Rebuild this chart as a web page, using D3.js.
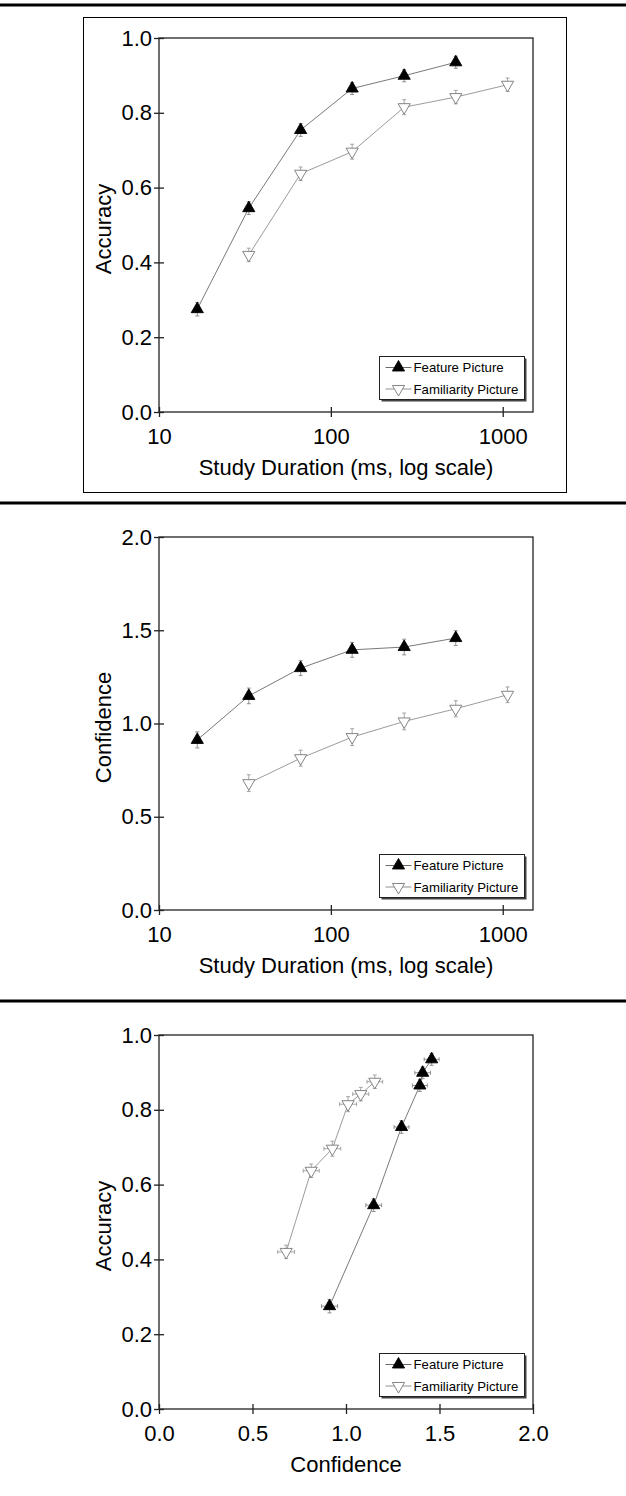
<!DOCTYPE html>
<html>
<head>
<meta charset="utf-8">
<script src="https://cdn.jsdelivr.net/npm/d3@7"></script>
<style>
  body { margin: 0; background: #fff; }
  svg { display: block; font-family: "Liberation Sans", Arial, Helvetica, sans-serif; }
</style>
</head>
<body>
<svg id="chart" width="626" height="1496"></svg>
<script>
// study durations (ms)
var durFeature = [16.7, 33.3, 66.7, 133, 267, 533];
var durFamiliar = [33.3, 66.7, 133, 267, 533, 1067];

var accFeature = [0.275, 0.545, 0.754, 0.865, 0.899, 0.935];
var accFeatureErr = [0.018, 0.017, 0.017, 0.016, 0.016, 0.016];
var accFamiliar = [0.42, 0.637, 0.696, 0.815, 0.842, 0.875];
var accFamiliarErr = [0.018, 0.018, 0.02, 0.02, 0.018, 0.018];

var confFeature = [0.912, 1.148, 1.297, 1.395, 1.41, 1.458];
var confFeatureErr = [0.043, 0.042, 0.04, 0.04, 0.042, 0.04];
var confFamiliar = [0.68, 0.814, 0.927, 1.011, 1.079, 1.154];
var confFamiliarErr = [0.045, 0.043, 0.045, 0.045, 0.043, 0.042];

var legendLabels = ["Feature Picture", "Familiarity Picture"];
var durTicks = [10, 100, 1000];
var accTicks = [0, 0.2, 0.4, 0.6, 0.8, 1.0];
var confTicks = [0, 0.5, 1.0, 1.5, 2.0];

var svg = d3.select("#chart");
var left = 159, right = 533;

// page rules and box around first figure
[5, 503, 1001].forEach(function(y) {
  svg.append("line").attr("x1", 0).attr("x2", 626).attr("y1", y).attr("y2", y)
    .attr("stroke", "#000").attr("stroke-width", 3);
});
svg.append("rect").attr("x", 83.5).attr("y", 17.5).attr("width", 483).attr("height", 475)
  .attr("fill", "none").attr("stroke", "#000").attr("stroke-width", 1);

function series(xs, xe, ys, ye) {
  return xs.map(function(x, i) { return {x: x, xe: xe ? xe[i] : 0, y: ys[i], ye: ye[i]}; });
}

function panel(opt) {
  var top = opt.top, bottom = opt.bottom;
  var x = opt.x.range([left, right]);
  var y = d3.scaleLinear().domain(opt.yDomain).range([bottom, top]);
  var g = svg.append("g");

  // frame
  g.append("rect").attr("x", left).attr("y", top).attr("width", right - left).attr("height", bottom - top)
    .attr("fill", "none").attr("stroke", "#222").attr("stroke-width", 1.3);

  var xAxis = g.append("g").attr("transform", "translate(0," + bottom + ")")
    .call(d3.axisBottom(x).tickValues(opt.xTicks).tickSize(5).tickFormat(opt.xFormat));
  xAxis.select(".domain").remove();
  xAxis.selectAll(".tick line").attr("y1", -5).attr("stroke", "#222").attr("stroke-width", 1.3);
  xAxis.selectAll(".tick text").attr("y", 16).attr("dy", "0.71em").attr("font-size", 22).attr("font-family", null).attr("fill", "#000");

  var yAxis = g.append("g").attr("transform", "translate(" + left + ",0)")
    .call(d3.axisLeft(y).tickValues(opt.yTicks).tickSize(5).tickFormat(d3.format(".1f")));
  yAxis.select(".domain").remove();
  yAxis.selectAll(".tick line").attr("x1", 5).attr("stroke", "#222").attr("stroke-width", 1.3);
  yAxis.selectAll(".tick text").attr("x", -7).attr("font-size", 22).attr("font-family", null).attr("fill", "#000");

  g.append("text").attr("x", (left + right) / 2).attr("y", bottom + 63)
    .attr("text-anchor", "middle").attr("font-size", 22).text(opt.xTitle);
  g.append("text").attr("transform", "translate(111," + ((top + bottom) / 2 + 4) + ") rotate(-90)")
    .attr("text-anchor", "middle").attr("font-size", 22).text(opt.yTitle);

  var line = d3.line().x(function(d) { return x(d.x); }).y(function(d) { return y(d.y); });
  var styles = [
    {line: "#6a6a6a", err: "#777", fill: "#000", stroke: "#000", rot: 0},
    {line: "#909090", err: "#909090", fill: "#fff", stroke: "#777", rot: 180}
  ];
  var tri = d3.symbol().type(d3.symbolTriangle).size(64);

  opt.data.forEach(function(data, k) {
    var s = styles[k];
    g.append("path").datum(data).attr("d", line).attr("fill", "none")
      .attr("stroke", s.line).attr("stroke-width", 0.9);
    var eb = g.append("g").attr("stroke", s.err).attr("stroke-width", 0.8);
    data.forEach(function(d) {
      var cx = x(d.x), cy = y(d.y);
      var y0 = y(d.y - d.ye), y1 = y(d.y + d.ye);
      eb.append("line").attr("x1", cx).attr("x2", cx).attr("y1", y0).attr("y2", y1);
      eb.append("line").attr("x1", cx - 2).attr("x2", cx + 2).attr("y1", y0).attr("y2", y0);
      eb.append("line").attr("x1", cx - 2).attr("x2", cx + 2).attr("y1", y1).attr("y2", y1);
      if (d.xe) {
        var x0 = x(d.x - d.xe), x1 = x(d.x + d.xe);
        eb.append("line").attr("x1", x0).attr("x2", x1).attr("y1", cy).attr("y2", cy);
        eb.append("line").attr("x1", x0).attr("x2", x0).attr("y1", cy - 2).attr("y2", cy + 2);
        eb.append("line").attr("x1", x1).attr("x2", x1).attr("y1", cy - 2).attr("y2", cy + 2);
      }
    });
    g.selectAll(".m" + k).data(data).enter().append("path")
      .attr("transform", function(d) { return "translate(" + x(d.x) + "," + y(d.y) + ") rotate(" + s.rot + ")"; })
      .attr("d", tri).attr("fill", s.fill).attr("stroke", s.stroke).attr("stroke-width", 0.9);
  });

  // legend
  var lx = 379.5, ly = bottom - 55.5, lw = 145, lh = 43;
  g.append("rect").attr("x", lx + 2).attr("y", ly + 2).attr("width", lw).attr("height", lh).attr("fill", "#444");
  g.append("rect").attr("x", lx).attr("y", ly).attr("width", lw).attr("height", lh)
    .attr("fill", "#fff").attr("stroke", "#222").attr("stroke-width", 1);
  legendLabels.forEach(function(lab, k) {
    var s = styles[k], ry = ly + 11 + k * 21.5;
    g.append("line").attr("x1", lx + 6).attr("x2", lx + 32).attr("y1", ry).attr("y2", ry)
      .attr("stroke", s.line).attr("stroke-width", 1);
    g.append("path").attr("transform", "translate(" + (lx + 19) + "," + ry + ") rotate(" + s.rot + ")")
      .attr("d", tri).attr("fill", s.fill).attr("stroke", s.stroke).attr("stroke-width", 0.9);
    g.append("text").attr("x", lx + 34).attr("y", ry + 4.5).attr("font-size", 13.2).attr("fill", "#000").text(lab);
  });
}

panel({
  top: 38, bottom: 412,
  x: d3.scaleLog().domain([10, 1500]), xTicks: durTicks, xFormat: d3.format("d"),
  yDomain: [0, 1], yTicks: accTicks,
  xTitle: "Study Duration (ms, log scale)", yTitle: "Accuracy",
  data: [series(durFeature, null, accFeature, accFeatureErr), series(durFamiliar, null, accFamiliar, accFamiliarErr)]
});

panel({
  top: 537, bottom: 910,
  x: d3.scaleLog().domain([10, 1500]), xTicks: durTicks, xFormat: d3.format("d"),
  yDomain: [0, 2], yTicks: confTicks,
  xTitle: "Study Duration (ms, log scale)", yTitle: "Confidence",
  data: [series(durFeature, null, confFeature, confFeatureErr), series(durFamiliar, null, confFamiliar, confFamiliarErr)]
});

panel({
  top: 1035, bottom: 1409,
  x: d3.scaleLinear().domain([0, 2]), xTicks: confTicks, xFormat: d3.format(".1f"),
  yDomain: [0, 1], yTicks: accTicks,
  xTitle: "Confidence", yTitle: "Accuracy",
  data: [series(confFeature, confFeatureErr, accFeature, accFeatureErr), series(confFamiliar, confFamiliarErr, accFamiliar, accFamiliarErr)]
});
</script>
</body>
</html>
